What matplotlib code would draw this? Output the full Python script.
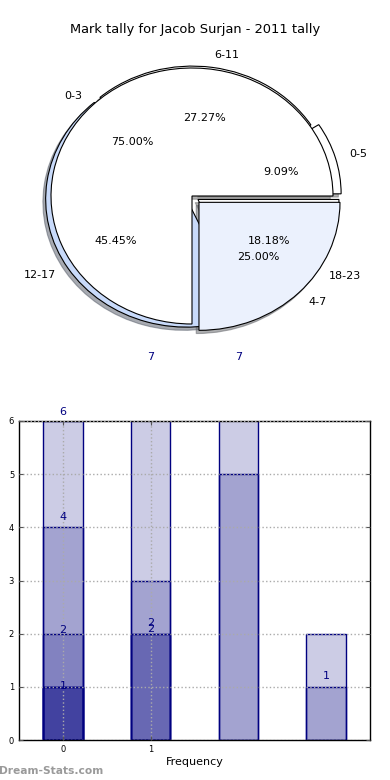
import numpy as np
import matplotlib
matplotlib.use("Agg")
import matplotlib.pyplot as plt

# Mark tally chart: two overlaid pies + overlapping bar tally

title_txt = "Mark tally for Jacob Surjan - 2011 tally"

# -- pie data
pie1_labels = ["0-3", "4-7"]
pie1_values = [3, 1]
pie1_colors = ["white", "#ebf1fd"]
pie1_explode = [0.0, 0.07]

pie2_labels = ["0-5", "6-11", "12-17", "18-23"]
pie2_values = [1, 3, 5, 2]
pie2_colors = ["white", "white", "#c8dafa", "white"]
pie2_explode = [0.06, 0.015, 0.045, 0.05]

# -- bar data (bars drawn over each other from zero, translucent)
bar_x = [0, 1, 2, 3]
bar_layers = [
    [6, 7, 7, 2],
    [4, 3, 5, 1],
    [2, 2, 0, 0],
    [1, 2, 0, 0],
    [1, 0, 0, 0],
    [1, 0, 0, 0],
]

ann_x = [0, 0, 0, 0, 1, 1, 1, 2, 3]
ann_txt = ["1", "2", "4", "6", "2", "2", "7", "7", "1"]
ann_y = [1.02, 2.06, 4.2, 6.17, 2.09, 2.21, 7.2, 7.2, 1.2]

xtick_pos = [0, 1]
xtick_lab = ["0", "1"]
ytick_pos = [0, 1, 2, 3, 4, 5, 6]

W, H = 390, 780
fig = plt.figure(figsize=(W / 100, H / 100), dpi=100)

#-- pie axes: centre (192,196) px, radii 141 x 128 px
cx, cy, rx, ry = 192.0, 196.0, 141.0, 128.0
lim = 1.25
ax1 = fig.add_axes([(cx - lim * rx) / W, 1 - (cy + lim * ry) / H,
                    2 * lim * rx / W, 2 * lim * ry / H])

wprops = {"edgecolor": "black", "linewidth": 0.8}
shad = {"ox": -0.014, "oy": -0.018, "shade": 0.6}
ax1.pie(pie2_values, labels=pie2_labels, colors=pie2_colors,
        explode=pie2_explode, autopct="%.2f%%", shadow=shad,
        startangle=0, wedgeprops=wprops,
        textprops={"fontsize": 8})
ax1.pie(pie1_values, labels=pie1_labels, colors=pie1_colors,
        explode=pie1_explode, autopct="%.2f%%", shadow=shad,
        startangle=0, wedgeprops=wprops,
        textprops={"fontsize": 8})
ax1.set_aspect("auto")
ax1.set_xlim(-lim, lim)
ax1.set_ylim(-lim, lim)
ax1.axis("off")

fig.text(0.5, 1 - 30 / H, title_txt, ha="center", va="center",
         fontsize=9.4)

#-- bar axes
ax2 = fig.add_axes([19 / W, 40 / H, 351 / W, 319 / H])
for layer in bar_layers:
    xs = [x for x, v in zip(bar_x, layer) if v > 0]
    vs = [v for v in layer if v > 0]
    ax2.bar(xs, vs, width=0.45, color=(0, 0, 0.5, 0.2),
            edgecolor="navy", linewidth=1.0)

for x, t, y in zip(ann_x, ann_txt, ann_y):
    ax2.text(x, y, t, ha="center", va="center", color="navy",
             fontsize=8, clip_on=False)

ax2.set_xlim(-0.5, 3.5)
ax2.set_ylim(0, 6)
ax2.set_xticks(xtick_pos)
ax2.set_xticklabels(xtick_lab)
ax2.set_yticks(ytick_pos)
ax2.tick_params(labelsize=6, direction="in", length=3,
                top=True, right=True, colors="#555555",
                labelcolor="black")
ax2.set_axisbelow(False)
ax2.grid(True, linestyle=":", color="#aaaaaa", linewidth=1.0)
ax2.set_xlabel("Frequency", fontsize=8, labelpad=2)
for s in ax2.spines.values():
    s.set_linewidth(1.0)

fig.text(-0.003, 9 / H, "Dream-Stats.com", ha="left", va="center",
         fontsize=7.7, fontweight="bold", color="#9a9a9a")

fig.savefig("out.png", dpi=100)
